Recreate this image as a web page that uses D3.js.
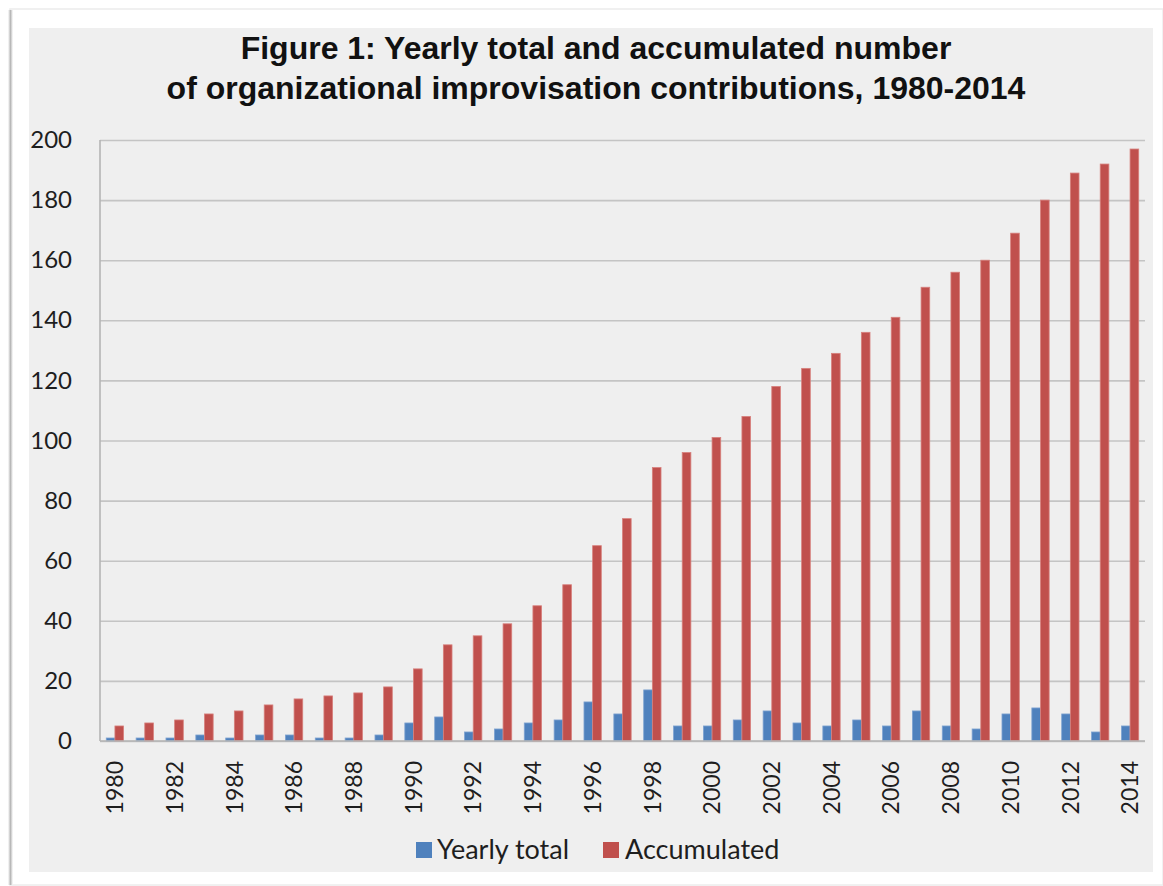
<!DOCTYPE html>
<html>
<head>
<meta charset="utf-8">
<script src="https://cdn.jsdelivr.net/npm/d3@7"></script>
<style>
  html, body { margin: 0; padding: 0; background: #ffffff; }
  svg { display: block; }
</style>
</head>
<body>
<svg id="chart" width="1163" height="886"></svg>
<script>
// ---- Data ----
const years = d3.range(1980, 2015).map(String);
const yearlyTotal = [1,1,1,2,1,2,2,1,1,2,6,8,3,4,6,7,13,9,17,5,5,7,10,6,5,7,5,10,5,4,9,11,9,3,5];
const accumulated = [5,6,7,9,10,12,14,15,16,18,24,32,35,39,45,52,65,74,91,96,101,108,118,124,129,136,141,151,156,160,169,180,189,192,197];
const seriesNames = ["Yearly total", "Accumulated"];
const seriesColors = ["#4f81bd", "#c0504d"];
const yTicks = [0,20,40,60,80,100,120,140,160,180,200];
const xTickLabels = years.filter((d, i) => i % 2 === 0);
const titleLines = ["Figure 1: Yearly total and accumulated number",
                    "of organizational improvisation contributions, 1980-2014"];

const rows = years.map((y, i) => ({ year: y, values: [yearlyTotal[i], accumulated[i]] }));

// ---- Layout ----
const svg = d3.select("#chart");
const plot = { left: 100, right: 1145, top: 140, bottom: 741 };

// card + shadow
const defs = svg.append("defs");
const grad = defs.append("linearGradient").attr("id", "shadowL").attr("x1", 0).attr("x2", 1);
grad.append("stop").attr("offset", 0).attr("stop-color", "#ffffff");
grad.append("stop").attr("offset", 0.5).attr("stop-color", "#b8b8b8");
grad.append("stop").attr("offset", 1).attr("stop-color", "#ffffff");

svg.append("rect").attr("x", 10).attr("y", 9).attr("width", 1153).attr("height", 876)
  .attr("fill", "#ffffff").attr("stroke", "#ececec").attr("stroke-width", 1.5);
svg.append("rect").attr("x", 8).attr("y", 10).attr("width", 5).attr("height", 875)
  .attr("fill", "url(#shadowL)");

// panel
svg.append("rect").attr("x", 29).attr("y", 28).attr("width", 1124).attr("height", 844)
  .attr("fill", "#efefef");

// title
svg.append("g").selectAll("text").data(titleLines).join("text")
  .attr("x", 596).attr("y", (d, i) => 59 + i * 40)
  .attr("text-anchor", "middle")
  .attr("font-family", "Liberation Sans, Arial, sans-serif")
  .attr("font-weight", "bold").attr("font-size", 32)
  .attr("fill", "#111")
  .text(d => d);

// scales
const x = d3.scaleBand().domain(years).range([plot.left, plot.right])
  .paddingInner(0.42).paddingOuter(0.21);
const x1 = d3.scaleBand().domain([0, 1]).range([0, x.bandwidth()]);
const y = d3.scaleLinear().domain([0, 200]).range([plot.bottom, plot.top]);

// gridlines
const yAxis = d3.axisLeft(y).tickValues(yTicks).tickSize(-(plot.right - plot.left)).tickFormat(d3.format("d")).tickPadding(28);
const gy = svg.append("g").attr("transform", `translate(${plot.left},0)`).call(yAxis);
gy.select(".domain").remove();
gy.selectAll(".tick line").attr("stroke", "#c4c4c4").attr("stroke-width", 1.6);
gy.selectAll(".tick text").attr("font-family", "Lato, 'Open Sans', sans-serif")
  .attr("font-size", 24).attr("fill", "#1e1e1e");

// axis lines
svg.append("line").attr("x1", plot.left).attr("x2", plot.left)
  .attr("y1", plot.top).attr("y2", plot.bottom)
  .attr("stroke", "#b4b4b4").attr("stroke-width", 1.6);

// bars
const groups = svg.append("g").selectAll("g").data(rows).join("g")
  .attr("transform", d => `translate(${x(d.year)},0)`);
groups.selectAll("rect").data(d => d.values.map((v, k) => ({ v, k }))).join("rect")
  .attr("x", d => x1(d.k))
  .attr("width", x1.bandwidth())
  .attr("y", d => y(d.v))
  .attr("height", d => y(0) - y(d.v))
  .attr("fill", d => seriesColors[d.k])
  .attr("stroke", d => d.k === 1 ? "#d7807d" : "#7fa3d1")
  .attr("stroke-width", 0.8);

// baseline on top
svg.append("line").attr("x1", plot.left).attr("x2", plot.right)
  .attr("y1", plot.bottom).attr("y2", plot.bottom)
  .attr("stroke", "#b4b4b4").attr("stroke-width", 1.6);

// x axis labels
const xAxis = d3.axisBottom(x).tickValues(xTickLabels).tickSize(0).tickPadding(0);
const gx = svg.append("g").attr("transform", `translate(0,${plot.bottom})`).call(xAxis);
gx.select(".domain").remove();
gx.selectAll(".tick text")
  .attr("font-family", "Lato, 'Open Sans', sans-serif")
  .attr("font-size", 23).attr("fill", "#1e1e1e")
  .attr("text-anchor", "end")
  .attr("transform", "rotate(-90)")
  .attr("x", -20).attr("y", 0).attr("dy", "0.36em");

// legend
const legend = svg.append("g");
const legendItems = [{ x: 416, tx: 437 }, { x: 603, tx: 625 }];
seriesNames.forEach((name, k) => {
  legend.append("rect").attr("x", legendItems[k].x).attr("y", 842)
    .attr("width", 16).attr("height", 16).attr("fill", seriesColors[k]);
  legend.append("text").attr("x", legendItems[k].tx).attr("y", 859)
    .attr("font-family", "Lato, 'Open Sans', sans-serif")
    .attr("font-size", 27).attr("fill", "#1e1e1e").text(name);
});
</script>
</body>
</html>
